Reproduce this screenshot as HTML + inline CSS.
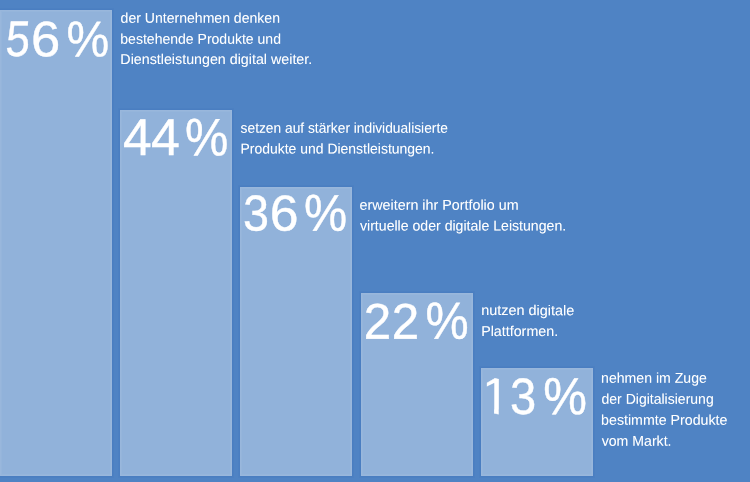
<!DOCTYPE html>
<html lang="de"><head><meta charset="utf-8"><title>Digitalisierung der Unternehmen</title>
<style>
html,body{margin:0;padding:0}
body{width:750px;height:482px;background:#4f83c4;position:relative;overflow:hidden;font-family:"Liberation Sans",sans-serif;color:#fff;text-rendering:geometricPrecision}
.bar{position:absolute;background:#91b2da;bottom:6px;width:112px;box-shadow:inset 0 0 0 1px rgba(255,255,255,.04),inset 0 0 0 2px rgba(255,255,255,.04),0 0 0 1px rgba(30,90,170,.05),0 0 0 2px rgba(30,90,170,.06)}
.num{position:absolute;left:0;top:0;margin:0;white-space:pre;will-change:transform;font-size:50px;line-height:1;font-weight:400}
.num span{display:inline-block;width:0;height:1em;vertical-align:top;transform-origin:0 0;white-space:pre;-webkit-text-stroke:.4px #fff;}
.num .one{clip-path:polygon(0 0,28px 0,28px 37.4px,17.1px 37.4px,17.1px 50px,12.2px 50px,12.2px 12.2px,0 19.4px);}
.lbl{position:absolute;left:0;top:0;margin:0;white-space:pre;will-change:transform;font-size:14.3px;line-height:1}
.lbl span{display:inline-block;width:0;height:1em;vertical-align:top;transform-origin:0 0;white-space:pre;text-shadow:0 0 0 rgba(255,255,255,.3);}
</style></head><body>
<div class="bar" style="left:0px;top:10px"></div>
<div class="bar" style="left:120px;top:110px"></div>
<div class="bar" style="left:240px;top:187px"></div>
<div class="bar" style="left:360.7px;top:293px"></div>
<div class="bar" style="left:480.7px;top:368px"></div>
<p class="num"><span style="transform:translate(7.89px,13.87px) rotate(.03deg) scale(0.8694,1.0043) skewX(-5deg)">5</span><span style="transform:translate(31.14px,14.37px) rotate(.03deg) scale(1.0511,0.9972)">6</span><span style="transform:translate(66.46px,14.14px) rotate(.03deg) scale(0.01,1)"> </span><span style="transform:translate(66.46px,14.14px) rotate(.03deg) scale(0.9614,1.0085)">%</span></p>
<p class="lbl"><span style="transform:translate(120.61px,11.70px) rotate(.03deg) scaleX(0.9829)">der Unternehmen denken </span><span style="transform:translate(120.32px,32.70px) rotate(.03deg) scaleX(0.9811)">bestehende Produkte und </span><span style="transform:translate(120.35px,53.00px) rotate(.03deg) scaleX(0.9976)">Dienstleistungen digital weiter.</span></p>
<p class="num"><span style="transform:translate(122.97px,111.48px) rotate(.03deg) scale(1.0314,1.0371)">4</span><span style="transform:translate(150.96px,111.48px) rotate(.03deg) scale(1.0392,1.0371)">4</span><span style="transform:translate(184.94px,110.89px) rotate(.03deg) scale(0.01,1)"> </span><span style="transform:translate(184.94px,110.89px) rotate(.03deg) scale(0.9759,1.0592)">%</span></p>
<p class="lbl"><span style="transform:translate(240.62px,121.70px) rotate(.03deg) scaleX(0.9624)">setzen auf stärker individualisierte </span><span style="transform:translate(240.48px,142.40px) rotate(.03deg) scaleX(0.9763)">Produkte und Dienstleistungen.</span></p>
<p class="num"><span style="transform:translate(243.07px,188.08px) rotate(.03deg) scale(0.9333,1.0111)">3</span><span style="transform:translate(269.67px,187.96px) rotate(.03deg) scale(1.0340,1.0139)">6</span><span style="transform:translate(304.14px,187.24px) rotate(.03deg) scale(0.01,1)"> </span><span style="transform:translate(304.14px,187.24px) rotate(.03deg) scale(0.9711,1.0366)">%</span></p>
<p class="lbl"><span style="transform:translate(359.50px,198.70px) rotate(.03deg) scaleX(1.0013)">erweitern ihr Portfolio um </span><span style="transform:translate(360.00px,219.40px) rotate(.03deg) scaleX(0.9863)">virtuelle oder digitale Leistungen.</span></p>
<p class="num"><span style="transform:translate(363.68px,296.05px) rotate(.03deg) scale(0.9849,1.0141)">2</span><span style="transform:translate(391.68px,296.05px) rotate(.03deg) scale(0.9849,1.0141)">2</span><span style="transform:translate(425.44px,294.98px) rotate(.03deg) scale(0.01,1)"> </span><span style="transform:translate(425.44px,294.98px) rotate(.03deg) scale(0.9711,1.0451)">%</span></p>
<p class="lbl"><span style="transform:translate(481.19px,304.10px) rotate(.03deg) scaleX(1.0099)">nutzen digitale </span><span style="transform:translate(481.15px,324.90px) rotate(.03deg) scaleX(0.9987)">Plattformen.</span></p>
<p class="num"><span class="one" style="transform:translate(482.53px,368.61px) rotate(.03deg) scale(0.9490,1.0197) skewY(9deg)">1</span><span style="transform:translate(509.95px,371.10px) rotate(.03deg) scale(0.9417,1.0222)">3</span><span style="transform:translate(543.33px,370.28px) rotate(.03deg) scale(0.01,1)"> </span><span style="transform:translate(543.33px,370.28px) rotate(.03deg) scale(0.9831,1.0451)">%</span></p>
<p class="lbl"><span style="transform:translate(601.11px,371.70px) rotate(.03deg) scaleX(0.9853)">nehmen im Zuge </span><span style="transform:translate(601.51px,392.80px) rotate(.03deg) scaleX(0.9805)">der Digitalisierung </span><span style="transform:translate(601.11px,413.70px) rotate(.03deg) scaleX(0.9936)">bestimmte Produkte </span><span style="transform:translate(601.70px,434.80px) rotate(.03deg) scaleX(0.9871)">vom Markt.</span></p>
</body></html>
